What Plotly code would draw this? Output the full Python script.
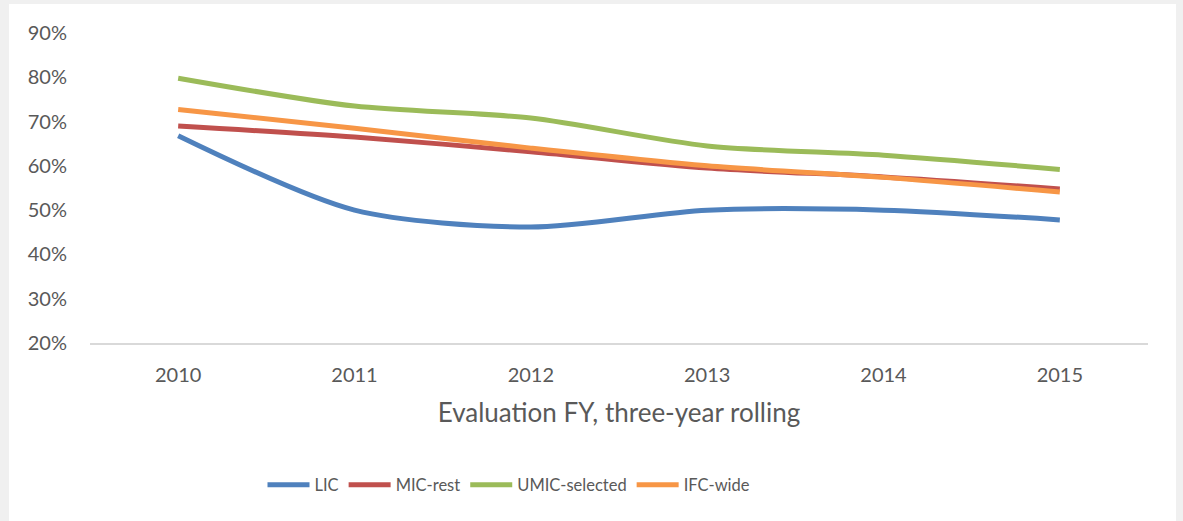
import plotly.graph_objects as go

years = ["2010", "2011", "2012", "2013", "2014", "2015"]
lic = [66.8, 50.0, 46.2, 50.0, 50.0, 47.8]
mic_rest = [69.0, 66.5, 63.2, 59.5, 57.5, 54.8]
umic_selected = [79.8, 73.5, 70.8, 64.5, 62.4, 59.2]
ifc_wide = [72.7, 68.5, 64.0, 60.0, 57.4, 54.1]

series = [
    ("LIC", lic, "#4F81BD"),
    ("MIC-rest", mic_rest, "#C0504D"),
    ("UMIC-selected", umic_selected, "#9BBB59"),
    ("IFC-wide", ifc_wide, "#F79646"),
]

FONT = "Lato"
fig = go.Figure()
for name, vals, color in series:
    fig.add_trace(go.Scatter(
        x=list(range(len(years))), y=[v / 100 for v in vals], name=name, mode="lines",
        line=dict(color=color, width=5, shape="spline", smoothing=0.8),
    ))

W, H = 1183, 521
L, R, T, B = 90, 35, 33, 178
pw, ph = W - L - R, H - T - B

def px_x(p):
    return (p - L) / pw

def px_y(p):
    return (H - B - p) / ph

fig.update_layout(
    width=W, height=H,
    margin=dict(l=L, r=R, t=T, b=B),
    paper_bgcolor="#F0F0F0",
    plot_bgcolor="white",
    font=dict(family=FONT, color="#595959", size=20),
    showlegend=True,
    legend=dict(orientation="h", x=px_x(509), xanchor="center", y=px_y(485), yanchor="middle",
                font=dict(size=16.5, color="#595959", family=FONT), itemwidth=42,
                bgcolor="rgba(0,0,0,0)", tracegroupgap=0),
    shapes=[dict(type="rect", xref="paper", yref="paper", layer="below",
                 x0=px_x(9), x1=px_x(1176), y0=px_y(530), y1=px_y(4),
                 fillcolor="white", line=dict(width=0))],
    xaxis=dict(
        tickmode="array", tickvals=list(range(len(years))), ticktext=years,
        range=[-0.5, len(years) - 0.5], showgrid=False, zeroline=False,
        showline=True, linecolor="#D9D9D9", linewidth=1.5, ticks="",
        ticklabelstandoff=13,
        tickfont=dict(size=20, color="#595959", family=FONT),
        title=dict(text="Evaluation FY, three-year rolling", standoff=19,
                   font=dict(size=26, color="#595959", family=FONT)),
    ),
    yaxis=dict(
        range=[0.2, 0.9], tickvals=[0.2, 0.3, 0.4, 0.5, 0.6, 0.7, 0.8, 0.9],
        tickformat=".0%", showgrid=False, zeroline=False, showline=False, ticks="",
        ticklabelstandoff=22,
        tickfont=dict(size=20, color="#595959", family=FONT),
    ),
)

fig.write_html("out.html", config={"displayModeBar": False},
               post_script="document.body.style.margin='0';document.body.style.overflow='hidden';")
